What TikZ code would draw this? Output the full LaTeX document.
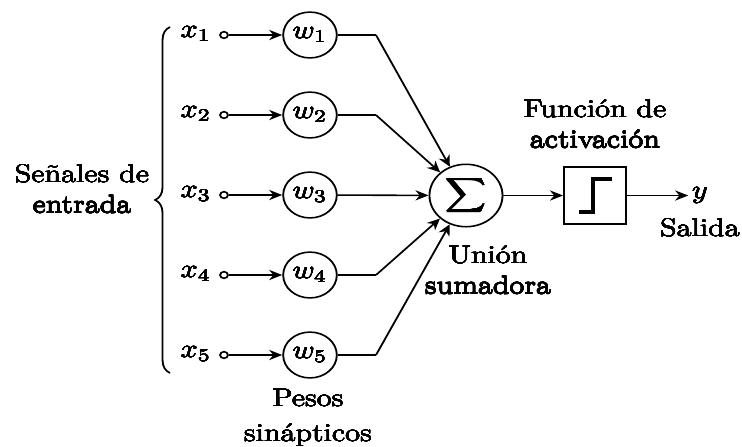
\documentclass[tikz,border=0pt]{standalone}
\usetikzlibrary{arrows.meta,decorations.pathreplacing}
\usepackage[copies]{contour}
\contourlength{0.06pt}
\contournumber{12}
% slightly heavier type for all labels
\newcommand\hv[1]{\contour{black}{#1}}
\begin{document}
\begin{tikzpicture}
% page frame (291 x 175 pt)
\useasboundingbox (0,0) rectangle (291.24pt,-175.06pt);
\begin{scope}[transform canvas={xscale=1.17}, x=0.33547pt, y=-0.3925pt,
    line width=0.62pt,
    >={Stealth[length=4.4pt,width=4pt]},
    weight/.style={circle,draw,minimum size=18pt,inner sep=0pt},
    port/.style={circle,draw,minimum size=2.6pt,inner sep=0pt},
    lbl/.style={align=center,inner sep=0pt}]

  % inputs, synaptic weights and bend points
  \foreach \i/\yy in {1/35,2/115,3/195,4/275,5/355} {
    \node (x\i) at (196,\yy-1) {\hv{$x_\i$}};
    \node[port] (p\i) at (224,\yy) {};
    \node[weight] (w\i) at (310,\yy) {\hv{$w_\i$}};
    \coordinate (k\i) at (376,\yy);
    \draw[->] (p\i) -- (w\i);
  }

  % summing junction, activation block and output
  \node[circle,draw,minimum size=24.5pt,inner sep=0pt] (sum) at (466,195.5)
    {\hv{\scalebox{0.93}{$\displaystyle\sum$}}};
  \node[draw,minimum width=20.8pt,minimum height=22.4pt,inner sep=0pt] (act) at (595,195.5) {};
  \draw[line width=1.3pt] (579,212) -- (593,212) -- (593,179) -- (612,179);
  \node[inner sep=1pt] (yout) at (700,195.5) {\hv{$y$}};

  % connectors
  \foreach \i in {1,2,4,5} {
    \draw (w\i) -- (k\i);
    \draw[->] (k\i) -- (sum);
  }
  \draw[->] (w3) -- (sum);
  \draw[->] (sum) -- (act);
  \draw[->] (act) -- (yout);

  % input brace
  \draw[decorate,decoration={brace,amplitude=5pt}] (170,373) -- (170,27);

  % captions
  \node[lbl] (cin)  at (82,189)  {\hv{Señales de}\\\hv{entrada}};
  \node[lbl] (cw)   at (308,418) {\hv{Pesos}\\[1.6pt]\hv{sinápticos}};
  \node[lbl] (csum) at (488,270) {\hv{Unión}\\\hv{sumadora}};
  \node[lbl] (cact) at (595,124) {\hv{Función de}\\\hv{activación}};
  \node[lbl] (cout) at (700,228) {\hv{Salida}};
\end{scope}
\end{tikzpicture}
\end{document}
